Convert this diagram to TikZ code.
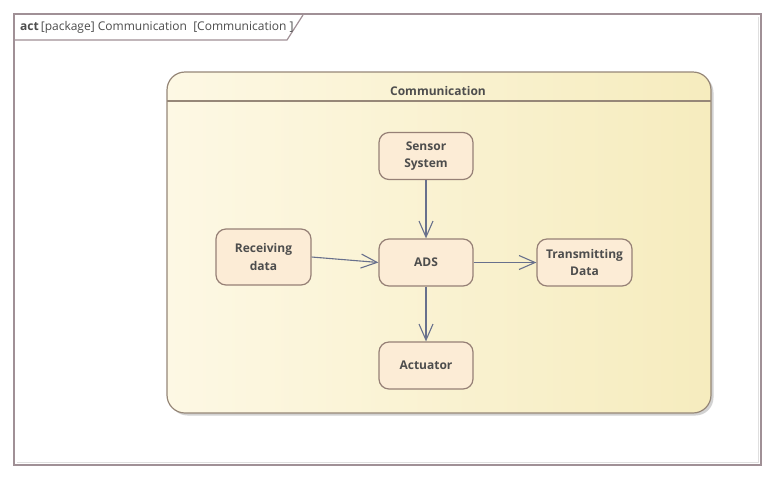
\documentclass[tikz,border=0pt]{standalone}
\usepackage{fontspec}
\setmainfont{Open Sans}
\usetikzlibrary{arrows.meta,shadows}
\definecolor{framec}{RGB}{160,144,150}
\definecolor{pkgborder}{RGB}{150,135,120}
\definecolor{pkgleft}{RGB}{253,248,228}
\definecolor{pkgright}{RGB}{246,236,190}
\definecolor{actfill}{RGB}{252,236,214}
\definecolor{actborder}{RGB}{150,128,118}
\definecolor{txt}{RGB}{77,77,77}
\definecolor{arrowc}{RGB}{104,112,140}
\tikzset{
  actbox/.style={draw=actborder, line width=1.2pt, fill=actfill, rounded corners=10pt,
    minimum width=94pt, minimum height=47pt, align=center, text=txt,
    font=\fontsize{12}{17.5}\selectfont\bfseries, inner sep=2pt},
  flow/.style={draw=arrowc, line width=1.1pt, -{Straight Barb[length=16pt,width=14pt,line width=1.1pt]}}
}
\begin{document}
\begin{tikzpicture}[x=1pt,y=-1pt]
\useasboundingbox (0,0) rectangle (778,480);
\fill[white] (0,0) rectangle (778,480);
% outer frame
\draw[gray!25, line width=1pt] (17,462) -- (758,462) -- (758,17);
\draw[framec, line width=2pt] (14,14) rectangle (761,465);
\draw[framec, line width=1.2pt] (14,40) -- (287,40) -- (303,15);
\node[anchor=west, inner sep=0pt, text=txt, font=\fontsize{12}{14}\selectfont] (frametitle) at (20,27)
  {\textbf{act}\,[package] Communication\ \ [Communication ]};
% package shadow
\fill[gray!35, rounded corners=18pt] (169.5,74.5) rectangle (713.5,415.5);
% package
\shade[left color=pkgleft, right color=pkgright, rounded corners=18pt] (167,72) rectangle (711,413);
\draw[pkgborder, line width=1.2pt, rounded corners=18pt] (167,72) rectangle (711,413);
\draw[pkgborder, line width=1.2pt] (167,101) -- (711,101);
\node[text=txt, font=\fontsize{12}{14}\selectfont\bfseries] (pkgtitle) at (438,91) {Communication};
% actions
\node[actbox] (sensor) at (426,156) {Sensor\\System};
\node[actbox, minimum width=95pt, minimum height=56pt] (recv) at (263.5,257) {Receiving\\data};
\node[actbox] (ads) at (426,262.5) {ADS};
\node[actbox, minimum width=95pt] (trans) at (584.5,262.5) {Transmitting\\Data};
\node[actbox] (act) at (426,365.5) {Actuator};
% flows
\draw[flow] (sensor) -- (ads);
\draw[flow] (recv.east) -- (ads.west);
\draw[flow] (ads) -- (trans);
\draw[flow] (ads) -- (act);
\end{tikzpicture}
\end{document}
